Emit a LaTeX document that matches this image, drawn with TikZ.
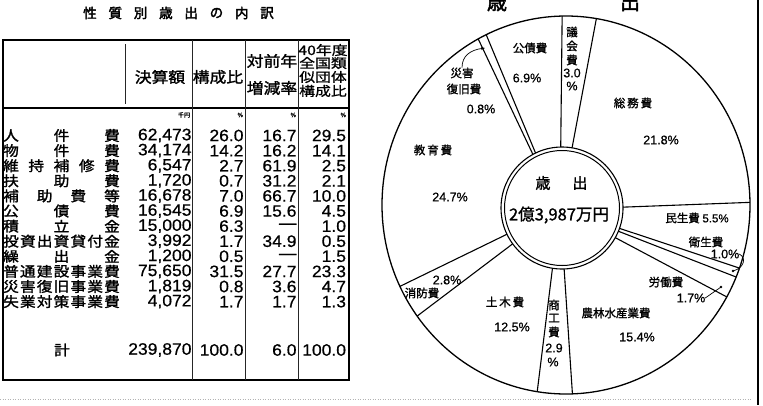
\documentclass[tikz,border=0pt]{standalone}
\usepackage{fontspec}
\usetikzlibrary{arrows.meta}
\setmainfont{Liberation Sans}
\newfontfamily\jp[FakeBold=1.2]{Noto Sans CJK JP}
\newfontfamily\jpb[FakeBold=2.5]{Noto Sans CJK JP}
\newfontfamily\jpw[FakeStretch=1.12,FakeBold=1.5]{Noto Sans CJK JP}
\newfontfamily\jpx[FakeStretch=1.22,FakeBold=1]{Noto Sans CJK JP}
\newfontfamily\numf[FakeBold=0.6]{Liberation Sans}
\newfontfamily\numw[FakeStretch=1.06,FakeBold=0.6]{Liberation Sans}
\tikzset{
  every node/.style={inner sep=0pt, outer sep=0pt},
  lab/.style={font=\jpw\fontsize{14}{14}\selectfont},
  hdr/.style={font=\jpw\fontsize{15}{15}\selectfont},
  hdrs/.style={font=\jpx\fontsize{13}{13}\selectfont},
  num/.style={anchor=east, font=\numw\fontsize{16.5}{16.5}\selectfont},
  unit/.style={anchor=east, font=\jp\fontsize{6}{6}\selectfont},
  pl/.style={font=\jp\fontsize{11.5}{11.5}\selectfont},
  pp/.style={font=\numf\fontsize{12.5}{12.5}\selectfont},
  frame/.style={line width=2.4pt},
  rule/.style={line width=0.8pt, black!85},
  spoke/.style={line width=1.1pt},
  leader/.style={line width=0.7pt},
}
\newcommand\trow[7]{%
  \pgfmathsetmacro\yy{135.5+(#1-1)*15.1}
  \foreach \ch [count=\i] in {#3} {\node[lab] (r#1-\i) at ({11+(\i-1)*101/(#2-1)},\yy) {\ch};}
  \node[num] (a#1) at (191.5,\yy) {#4};
  \node[num] (b#1) at (243.5,\yy) {#5};
  \node[num] (c#1) at (296.5,\yy) {#6};
  \node[num] (d#1) at (346,\yy) {#7};
}
\begin{document}
\begin{tikzpicture}[x=1pt,y=-1pt]
\useasboundingbox (0,0) rectangle (763,405);
\clip (0,0) rectangle (763,405);
\fill[white] (0,0) rectangle (763,405);

% title
\foreach \ch [count=\i] in {性,質,別,歳,出,の,内,訳}
  \node[font=\jpb\fontsize{13.5}{13.5}\selectfont] (t\i) at ({90+(\i-1)*25.3},13) {\ch};

% table frame
\draw[frame] (3,40) rectangle (349,380);
\draw[line width=1.2pt] (3,108) -- (349,108);
\draw[rule] (125,44) -- (125,104);
\foreach \x in {192,245,298} \draw[rule] (\x,40) -- (\x,380);

% header
\node[hdr] (h1) at (160,77) {決算額};
\node[hdr] (h2) at (218,77) {構成比};
\node[hdr] (h3a) at (272,61) {対前年};
\node[hdr] (h3b) at (272,88) {増減率};
\node[hdrs] (h4a) at (323,50) {40年度};
\node[hdrs] (h4b) at (323,63) {全国類};
\node[hdrs] (h4c) at (323,77) {似団体};
\node[hdrs] (h4d) at (323,91) {構成比};
\node[unit] (u1) at (190,115) {千円};
\node[unit] (u2) at (243,115) {\%};
\node[unit] (u3) at (296,115) {\%};
\node[unit] (u4) at (346,115) {\%};

% rows
\trow{1}{3}{人,件,費}{62,473}{26.0}{16.7}{29.5}
\trow{2}{3}{物,件,費}{34,174}{14.2}{16.2}{14.1}
\trow{3}{5}{維,持,補,修,費}{6,547}{2.7}{61.9}{2.5}
\trow{4}{3}{扶,助,費}{1,720}{0.7}{31.2}{2.1}
\trow{5}{4}{補,助,費,等}{16,678}{7.0}{66.7}{10.0}
\trow{6}{3}{公,債,費}{16,545}{6.9}{15.6}{4.5}
\trow{7}{3}{積,立,金}{15,000}{6.3}{—}{1.0}
\trow{8}{7}{投,資,出,資,貸,付,金}{3,992}{1.7}{34.9}{0.5}
\trow{9}{3}{繰,出,金}{1,200}{0.5}{—}{1.5}
\trow{10}{7}{普,通,建,設,事,業,費}{75,650}{31.5}{27.7}{23.3}
\trow{11}{7}{災,害,復,旧,事,業,費}{1,819}{0.8}{3.6}{4.7}
\trow{12}{7}{失,業,対,策,事,業,費}{4,072}{1.7}{1.7}{1.3}
\node[lab] (sum) at (62,350) {計};
\node[num] (sa) at (191.5,350) {239,870};
\node[num] (sb) at (243.5,350) {100.0};
\node[num] (sc) at (296.5,350) {6.0};
\node[num] (sd) at (346,350) {100.0};

% pie
\draw[line width=1.3pt] (566,205) ellipse [x radius=184pt, y radius=189pt];
\foreach \b in {358.8,9.5,89.2,109.5,112.4,119.1,178,189,234,244.5,331.5,334.3}
  \draw[spoke] ({562+61*sin(\b)},{208-61*cos(\b)}) -- ({566+184*sin(\b)},{205-189*cos(\b)});
\draw[line width=1.1pt, fill=white] (562,208) circle[radius=61pt];
\draw[line width=1pt] (562,208) circle[radius=57.5pt];

\node[font=\jpb\fontsize{20}{20}\selectfont] (pt1) at (497,2) {歳};
\node[font=\jpb\fontsize{20}{20}\selectfont] (pt2) at (630,2) {出};

\node[font=\jp\fontsize{15}{15}\selectfont] (c1) at (543,183) {歳};
\node[font=\jp\fontsize{15}{15}\selectfont] (c2) at (580,183) {出};
\node[font=\jp\fontsize{16.5}{16.5}\selectfont] (c3) at (559,215) {2億3,987万円};

\node[pl] (k1) at (530,48) {公債費};
\node[pp] (k2) at (527,78) {6.9\%};
\node[pl] (s1) at (462,73) {災害};
\node[pl] (s2) at (464,89) {復旧費};
\node[pp] (s3) at (481,109) {0.8\%};
\node[pl] (g1) at (572,32) {議};
\node[pl] (g2) at (572,46) {会};
\node[pl] (g3) at (572,60) {費};
\node[pp] (g4) at (572,73) {3.0};
\node[pp] (g5) at (572,86) {\%};
\node[pl] (m1) at (633,103) {総\,務\,費};
\node[pp] (m2) at (661,140) {21.8\%};
\node[pl] (e1) at (433,150) {教\,育\,費};
\node[pp] (e2) at (450,197) {24.7\%};
\node[pl] (w1) at (697,218) {民生費 {\numf 5.5\%}};
\node[pl] (h1x) at (706,242) {衛生費};
\node[pp] (h2x) at (725,254) {1.0\%};
\node[pl] (l1) at (666,282) {労働費};
\node[pp] (l2) at (691,298) {1.7\%};
\node[pp] (f1) at (447,280) {2.8\%};
\node[pl] (f2) at (422,293) {消防費};
\node[pl] (d1) at (505,302) {土\,木\,費};
\node[pp] (d2) at (512,327) {12.5\%};
\node[pl] (q1) at (554,305) {商};
\node[pl] (q2) at (554,318) {工};
\node[pl] (q3) at (554,332) {費};
\node[pp] (q4) at (554,348) {2.9};
\node[pp] (q5) at (553,362) {\%};
\node[pl] (n1) at (616,313) {農林水産業費};
\node[pp] (n2) at (637,337) {15.4\%};

% leaders
\draw[leader, -{Stealth[length=4pt,width=3pt]}] (s1.north) .. controls (462,56) and (470,50) .. (485,48);
\coordinate (dotA) at (733,271);
\coordinate (dotB) at (721,287);
\draw[leader] (h2x.east) .. controls (747,258) and (744,268) .. (dotA);
\fill (dotA) circle[radius=1.3pt];
\draw[leader] (l2.east) -- (dotB);
\fill (dotB) circle[radius=1.3pt];

% page edges
\draw[line width=2.5pt] (758,0) -- (758,405);
\draw[gray!60, line width=0.8pt, dash pattern=on 1pt off 1.5pt] (0,399) -- (752,399);
\end{tikzpicture}
\end{document}
